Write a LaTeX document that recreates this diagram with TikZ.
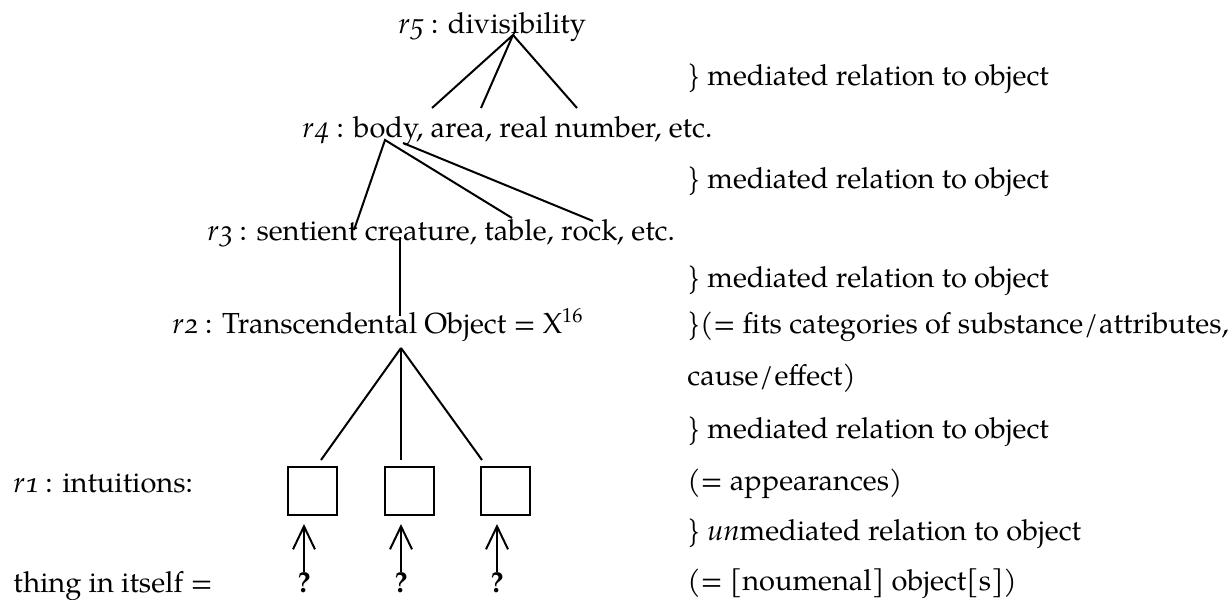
\documentclass[tikz,border=0pt]{standalone}
\usepackage{fontspec}
\setmainfont{TeX Gyre Pagella}[ItalicFeatures={Numbers=OldStyle}]
\usetikzlibrary{arrows.meta}

\newcommand{\rlev}[1]{\textit{r#1}}
\newcommand{\slsep}{\kern0.5pt/\kern0.5pt}

\begin{document}
\begin{tikzpicture}[x=0.5pt, y=-0.5pt,
  txt/.style={anchor=base west, inner sep=0pt, font=\fontsize{14.5}{18}\selectfont},
  qmark/.style={anchor=base, inner sep=0pt, font=\fontsize{14.5}{18}\selectfont\bfseries},
  intbox/.style={draw, line width=1pt, minimum width=24.5pt, minimum height=24pt, inner sep=0pt},
  link/.style={line width=1pt},
  arr/.style={line width=1pt, -{Straight Barb[length=11.5pt, width=11pt]}}]
  \useasboundingbox (0,0) rectangle (1228,600);

  % Levels of representation
  \node[txt] (r5) at (398,33) {\rlev{5} : divisibility};
  \node[txt] (r4) at (302,137) {\rlev{4} : body, area, real number, etc.};
  \node[txt] (r3) at (207,240) {\rlev{3} : sentient creature, table, rock, etc.};
  \node[txt] (r2) at (172,333) {\rlev{2} : Transcendental Object = X\textsuperscript{16}};
  \node[txt] (r1) at (13,492) {\rlev{1} : intuitions:};
  \node[txt] (thing) at (13,592) {thing in itself =};

  % Relations to the object
  \node[txt] (m1) at (687,85) {\} mediated relation to object};
  \node[txt] (m2) at (687,188) {\} mediated relation to object};
  \node[txt] (m3) at (687,287) {\} mediated relation to object};
  \node[txt] (fits) at (687,333) {\}(= fits categories of substance\slsep attributes,};
  \node[txt] (cause) at (687,385) {cause\slsep effect)};
  \node[txt] (m4) at (687,438) {\} mediated relation to object};
  \node[txt] (appear) at (687,490) {(= appearances)};
  \node[txt] (unmed) at (687,540) {\} \textit{un}mediated relation to object};
  \node[txt] (noum) at (687,590) {(= [noumenal] object[s])};

  % Branch points
  \coordinate (a5) at (513,35);
  \coordinate (a4) at (385,140);
  \coordinate (a4b) at (403,143);
  \coordinate (a3) at (400,237);
  \coordinate (a2) at (401,348);
  \coordinate (e51) at (432,108);
  \coordinate (e52) at (481,108);
  \coordinate (e53) at (577,108);
  \coordinate (e41) at (354,230);
  \coordinate (e42) at (512,218);
  \coordinate (e43) at (593,221);
  \coordinate (e31) at (400,316);

  \draw[link] (e51) -- (a5) -- (e52);
  \draw[link] (a5) -- (e53);
  \draw[link] (e41) -- (a4) -- (e42);
  \draw[link] (a4b) -- (e43);
  \draw[link] (a3) -- (e31);

  % Intuitions and things in themselves
  \foreach \i/\bx/\tx/\qx in {1/312.5/321/304, 2/409/401/401, 3/505/482/497} {
    \node[intbox] (b\i) at (\bx,491) {};
    \coordinate (t\i) at (\tx,460);
    \draw[link] (a2) -- (t\i);
    \node[qmark] (q\i) at (\qx,592) {?};
    \draw[arr, shorten >=4pt] (q\i.north) -- (q\i.north |- b\i.south);
  }
\end{tikzpicture}
\end{document}
